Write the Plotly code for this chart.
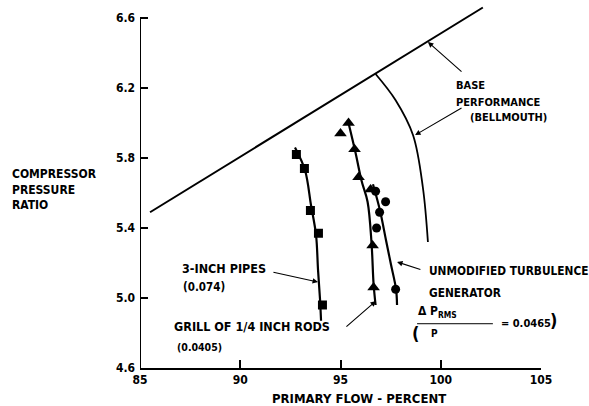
import plotly.graph_objects as go

# ---- data ----
x_ticks = [85, 90, 95, 100, 105]
y_ticks = [4.6, 5.0, 5.4, 5.8, 6.2, 6.6]

base_x = [85.5, 102.1]
base_y = [5.49, 6.66]

bell_x = [96.75, 97.75, 98.62, 99.11, 99.36]
bell_y = [6.28, 6.13, 5.93, 5.63, 5.32]

pipes_x = [92.8, 93.2, 93.5, 93.9, 94.1]
pipes_y = [5.82, 5.74, 5.50, 5.37, 4.96]
pipes_fair_x = [92.73, 93.23, 93.53, 93.78, 93.88, 93.98, 94.03]
pipes_fair_y = [5.86, 5.73, 5.53, 5.36, 5.16, 4.99, 4.87]

grill_x = [95.0, 95.4, 95.7, 95.9, 96.5, 96.6, 96.65]
grill_y = [5.94, 6.00, 5.85, 5.69, 5.62, 5.30, 5.06]
grill_fair_x = [95.4, 95.75, 96.05, 96.35, 96.55, 96.65, 96.75]
grill_fair_y = [6.00, 5.83, 5.67, 5.55, 5.31, 5.08, 4.96]

unmod_x = [96.75, 97.25, 96.95, 96.8, 97.75]
unmod_y = [5.61, 5.55, 5.49, 5.40, 5.05]
unmod_fair_x = [96.62, 96.97, 97.27, 97.52, 97.77, 97.82]
unmod_fair_y = [5.65, 5.50, 5.33, 5.19, 5.05, 4.96]

FONT = "DejaVu Sans Condensed"
INK = "black"

fig = go.Figure()

def line(x, y, w=2, shape="spline"):
    fig.add_trace(go.Scatter(x=x, y=y, mode="lines", line=dict(color=INK, width=w, shape=shape),
                             showlegend=False, hoverinfo="skip"))

line(base_x, base_y, 2, "linear")
line(bell_x, bell_y, 1.8)
line(pipes_fair_x, pipes_fair_y, 2.2)
line(grill_fair_x, grill_fair_y, 2.2)
line(unmod_fair_x, unmod_fair_y, 2.2)

fig.add_trace(go.Scatter(x=pipes_x, y=pipes_y, mode="markers",
                         marker=dict(symbol="square", size=9, color=INK), showlegend=False))
fig.add_trace(go.Scatter(x=grill_x, y=grill_y, mode="markers",
                         marker=dict(symbol="triangle-up", size=11, color=INK), showlegend=False))
fig.add_trace(go.Scatter(x=unmod_x, y=unmod_y, mode="markers",
                         marker=dict(symbol="circle", size=9, color=INK), showlegend=False))

tf = dict(family=FONT, size=12, color=INK, weight="bold")

def txt(x, y, s, size=12, xref="x", yref="y", xanchor="left"):
    fig.add_annotation(x=x, y=y, xref=xref, yref=yref, text=s, showarrow=False,
                       xanchor=xanchor, yanchor="middle",
                       font=dict(family=FONT, size=size, color=INK, weight="bold"))

def arrow(hx, hy, tx, ty):
    fig.add_annotation(x=hx, y=hy, ax=tx, ay=ty, xref="x", yref="y", axref="x", ayref="y",
                       text="", showarrow=True, arrowhead=2, arrowsize=1, arrowwidth=1.1,
                       arrowcolor=INK)

# left axis title
fig.add_annotation(x=-0.325, y=5.62, xref="paper", yref="y", xanchor="left", yanchor="middle",
                   align="left", showarrow=False,
                   text="COMPRESSOR<br>PRESSURE<br>RATIO",
                   font=dict(family=FONT, size=12, color=INK, weight="bold"))

# x title
txt(95.9, -30/368, "PRIMARY FLOW - PERCENT", 13, yref="paper", xanchor="center")

txt(100.66, 6.217, "BASE", 11)
txt(100.66, 6.12, "PERFORMANCE", 11)
txt(101.36, 6.029, "(BELLMOUTH)", 11)

txt(87.0, 5.171, "3-INCH PIPES", 12.5)
txt(87.04, 5.063, "(0.074)", 11.5)
txt(86.6, 4.835, "GRILL OF 1/4 INCH RODS", 12.5)
txt(86.75, 4.72, "(0.0405)", 10.5)

txt(99.3, 5.154, "UNMODIFIED TURBULENCE", 11.8)
txt(99.3, 5.029, "GENERATOR", 11.8)
txt(98.75, 4.92, "\u0394 P<sub>RMS</sub>", 12)
txt(99.4, 4.795, "P", 10)
txt(102.9, 4.853, "= 0.0465", 11)
txt(98.45, 4.80, "(", 18)
txt((548 - 140) / 401, 4.87, ")", 18, xref="paper")
fig.add_shape(type="line", x0=98.82, x1=102.6, y0=4.853, y1=4.853, xref="x", yref="y",
              line=dict(color=INK, width=1))

arrow(99.36, 6.463, 101.11, 6.286)
arrow(98.72, 5.931, 101.11, 6.091)
arrow(93.88, 5.091, 91.58, 5.149)
arrow(96.77, 4.983, 95.22, 4.829)
arrow(97.82, 5.206, 99.06, 5.16)

# y axis line only up to 6.6
fig.add_shape(type="line", x0=85, x1=85, y0=4.6, y1=6.6, xref="x", yref="y",
              line=dict(color=INK, width=2))

fig.update_layout(
    width=589, height=406,
    margin=dict(l=140, r=48, t=0, b=38),
    paper_bgcolor="white", plot_bgcolor="white",
    xaxis=dict(range=[85, 105], tickvals=x_ticks, ticktext=[str(v) for v in x_ticks],
               showgrid=False, zeroline=False, showline=True, linecolor=INK, linewidth=2,
               ticks="inside", ticklen=8, tickwidth=1.5, tickcolor=INK,
               tickfont=tf),
    yaxis=dict(range=[4.6, 4.6 + 368/175], tickvals=y_ticks, ticktext=[f"{v:.1f}" for v in y_ticks],
               showgrid=False, zeroline=False, showline=False,
               ticks="inside", ticklen=8, tickwidth=1.5, tickcolor=INK,
               tickfont=tf, ticklabelstandoff=4),
)

fig.write_html("out.html")
